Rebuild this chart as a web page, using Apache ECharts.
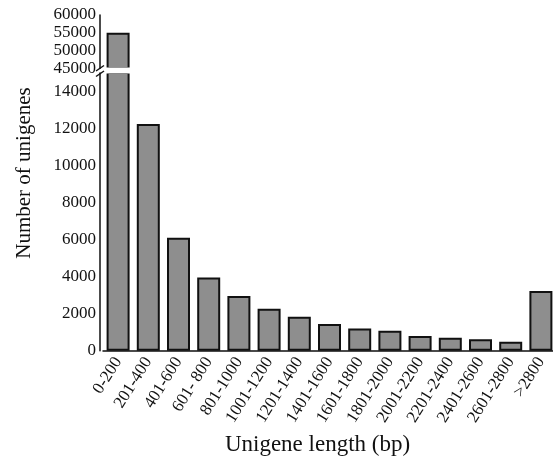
<!DOCTYPE html>
<html>
<head>
<meta charset="utf-8">
<script src="https://cdn.jsdelivr.net/npm/echarts@6/dist/echarts.min.js"></script>
<style>
  html, body { margin: 0; padding: 0; background: #fff; }
  #main { width: 553px; height: 456px; }
</style>
</head>
<body>
<div id="main"></div>
<script>
  // unigene length bins and counts
  var lengthBins = ['0-200', '201-400', '401-600', '601- 800', '801-1000', '1001-1200', '1201-1400',
    '1401-1600', '1601-1800', '1801-2000', '2001-2200', '2201-2400', '2401-2600', '2601-2800', '>2800'];
  var unigeneCounts = [55000, 12250, 6100, 3950, 2960, 2270, 1830, 1440, 1200, 1080, 800, 700, 620, 490, 3220];

  // broken y axis: lower and upper ranges
  var lowerRange = [0, 15000];
  var upperRange = [45000, 60000];

  var font = 'Liberation Serif';
  var upperCounts = unigeneCounts.map(function (v) { return v > upperRange[0] ? v : '-'; });

  var barStyle = { color: '#8e8e8e', borderColor: '#111', borderWidth: 2 };
  var axisLine = { show: true, lineStyle: { color: '#111', width: 1.5 } };
  var plain = function (v) { return String(v); };

  var chart = echarts.init(document.getElementById('main'));
  chart.setOption({
    animation: false,
    grid: [
      { left: 103, right: -3, top: 73, height: 277.7, outerBoundsMode: 'none' },
      { left: 103, right: -3, top: 15, height: 53.3, outerBoundsMode: 'none' }
    ],
    xAxis: [
      {
        type: 'category', gridIndex: 0, data: lengthBins,
        name: 'Unigene length (bp)', nameLocation: 'middle', nameGap: 82,
        nameTextStyle: { fontFamily: font, fontSize: 23, color: '#111', padding: [0, 24, 0, 0] },
        axisLine: axisLine,
        axisTick: { alignWithLabel: true, length: 5, lineStyle: { color: '#111', width: 1.5 } },
        axisLabel: { rotate: 58, fontFamily: font, fontSize: 17, color: '#111', margin: 8, interval: 0 }
      },
      { type: 'category', gridIndex: 1, data: lengthBins, show: false }
    ],
    yAxis: [
      {
        type: 'value', gridIndex: 0, min: lowerRange[0], max: lowerRange[1], interval: 2000, offset: 3,
        axisLine: axisLine, splitLine: { show: false },
        axisTick: { length: 5, lineStyle: { color: '#111', width: 1.5 } },
        axisLabel: { fontFamily: font, fontSize: 17, color: '#111', margin: 4, showMaxLabel: false, formatter: plain }
      },
      {
        type: 'value', gridIndex: 1, min: upperRange[0], max: upperRange[1], interval: 5000, offset: 3,
        axisLine: axisLine, splitLine: { show: false },
        axisTick: { length: 5, lineStyle: { color: '#111', width: 1.5 } },
        axisLabel: {
          fontFamily: font, fontSize: 17, lineHeight: 12, color: '#111', margin: 4, formatter: plain,
          showMinLabel: true, showMaxLabel: true
        }
      }
    ],
    series: [
      { type: 'bar', xAxisIndex: 0, yAxisIndex: 0, data: unigeneCounts, barWidth: 23, itemStyle: barStyle, clip: true },
      { type: 'bar', xAxisIndex: 1, yAxisIndex: 1, data: upperCounts, barWidth: 23, itemStyle: barStyle, clip: true }
    ],
    graphic: [
      // white gap for the axis break
      { type: 'rect', z: 100, shape: { x: 101, y: 67.6, width: 40, height: 5.8 }, style: { fill: '#fff' } },
      { type: 'line', z: 101, shape: { x1: 96, y1: 71, x2: 104, y2: 65.5 }, style: { stroke: '#111', lineWidth: 1.5 } },
      { type: 'line', z: 101, shape: { x1: 96, y1: 76.5, x2: 104, y2: 71 }, style: { stroke: '#111', lineWidth: 1.5 } },
      {
        type: 'text', z: 100, x: 24, y: 173, rotation: Math.PI / 2,
        style: { text: 'Number of unigenes', fontFamily: font, fontSize: 21, fill: '#111', align: 'center', verticalAlign: 'middle' }
      }
    ]
  });
</script>
</body>
</html>
